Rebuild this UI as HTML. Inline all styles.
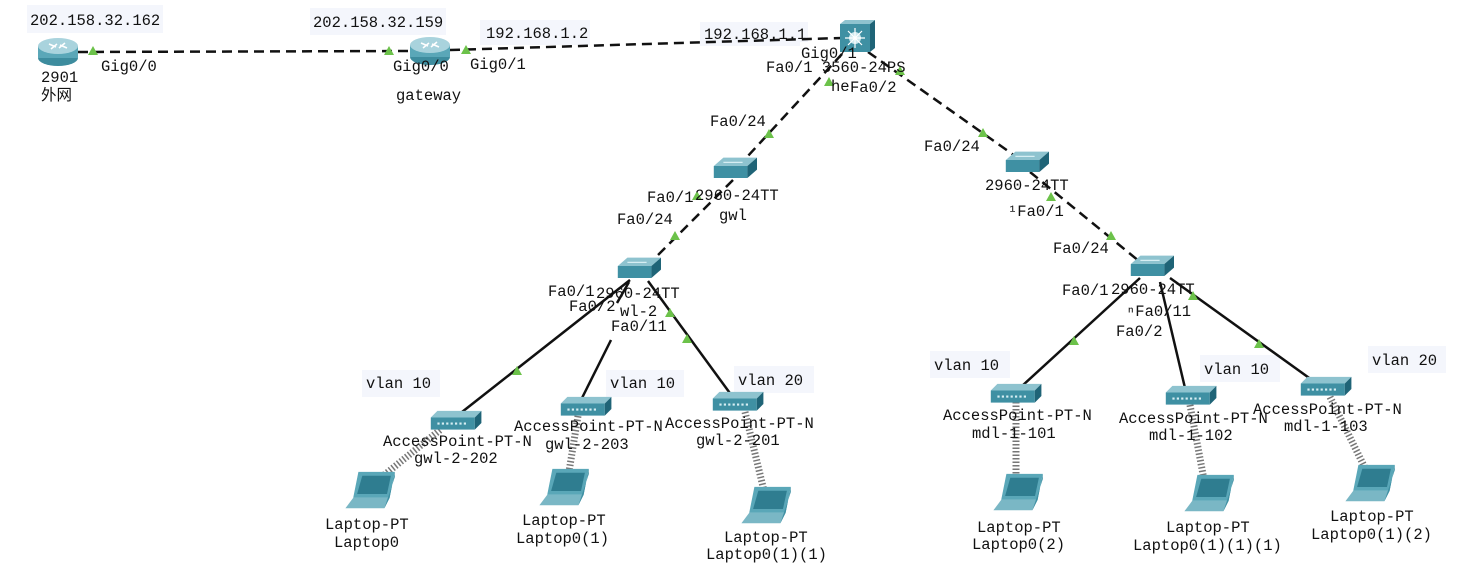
<!DOCTYPE html>
<html><head><meta charset="utf-8">
<style>
html,body{margin:0;padding:0;background:#fff;}
svg{display:block;}
text{font-family:"Liberation Mono","Noto Sans CJK SC",monospace;font-size:15.5px;fill:#111;}
</style></head>
<body>
<svg width="1464" height="586" viewBox="0 0 1464 586" xmlns="http://www.w3.org/2000/svg">
<defs>
 <g id="router">
  <ellipse cx="0" cy="8" rx="20" ry="8" fill="#3d8c9e"/>
  <rect x="-20" y="-4" width="40" height="12" fill="#5aa7b8"/>
  <ellipse cx="0" cy="-4" rx="20" ry="8" fill="#a9d3dd"/>
  <path d="M-9,-6 L-2,-3 M9,-2 L2,-5 M-7,-1 L-1,-6 M7,-7 L1,-2" stroke="#fff" stroke-width="1.5"/>
 </g>
 <g id="sw0">
  <polygon points="-16,-5 -8,-12 20,-12 12,-5" fill="#8ec3cf"/>
  <rect x="-16" y="-5" width="28" height="10" fill="#3f90a3"/>
  <polygon points="12,-5 20,-12 20,-2 12,5" fill="#1f6477"/>
  <path d="M-8,-8 L8,-8" stroke="#d6eef3" stroke-width="1"/>
 </g>
 <g id="sw"><use href="#sw0" transform="scale(1.2)"/></g>
 <g id="ap0">
  <polygon points="-22,-5 -16,-11 24,-11 18,-5" fill="#8ec3cf"/>
  <rect x="-22" y="-5" width="40" height="11" fill="#3f90a3"/>
  <polygon points="18,-5 24,-11 24,0 18,6" fill="#1f6477"/>
  <path d="M-16,0.5 L12,0.5" stroke="#d6eef3" stroke-width="2" stroke-dasharray="2,2"/>
 </g>
 <g id="ap"><use href="#ap0" transform="scale(1.1)"/></g>
 <g id="lp0">
  <polygon points="-12,-17 16,-17 12,3 -16,3" fill="#5aa7b8"/>
  <polygon points="-9,-14 13,-14 10,0 -13,0" fill="#2f7d90"/>
  <polygon points="-16,3 12,3 8,11 -22,11" fill="#7ab7c5"/>
  <polygon points="12,3 16,-17 16,-13 8,11" fill="#3f90a3"/>
 </g>
 <g id="laptop"><use href="#lp0" transform="scale(1.3)"/></g>
 <g id="tri"><polygon points="0,-5 5,4 -5,4" fill="#6cc24a"/></g>
</defs>

<g fill="#f4f6fc">
 <rect x="27" y="5" width="136" height="28"/>
 <rect x="310" y="8" width="136" height="27"/>
 <rect x="480" y="20" width="110" height="25"/>
 <rect x="700" y="22" width="108" height="24"/>
 <rect x="800" y="42" width="64" height="22" fill="#fff"/>
 <rect x="362" y="370" width="78" height="27"/>
 <rect x="606" y="370" width="78" height="27"/>
 <rect x="734" y="366" width="80" height="27"/>
 <rect x="930" y="351" width="80" height="27"/>
 <rect x="1200" y="355" width="80" height="27"/>
 <rect x="1368" y="346" width="78" height="27"/>
</g>

<g stroke="#111" stroke-width="2.5" fill="none" stroke-dasharray="10,6">
 <line x1="78" y1="52" x2="410" y2="51"/>
 <line x1="450" y1="50" x2="842" y2="38"/>
 <line x1="842" y1="54" x2="735" y2="170"/>
 <line x1="868" y1="52" x2="1025" y2="163"/>
 <line x1="733" y1="180" x2="645" y2="268"/>
 <line x1="1030" y1="172" x2="1145" y2="266"/>
</g>
<g stroke="#111" stroke-width="2.5" fill="none">
 <line x1="630" y1="280" x2="462" y2="412"/>
 <line x1="629" y1="282" x2="617" y2="303"/>
 <line x1="611" y1="340" x2="581" y2="400"/>
 <line x1="648" y1="281" x2="732" y2="396"/>
 <line x1="1140" y1="278" x2="1022" y2="386"/>
 <line x1="1160" y1="282" x2="1185" y2="388"/>
 <line x1="1170" y1="278" x2="1312" y2="380"/>
</g>
<g stroke="#777" stroke-width="7" fill="none" stroke-dasharray="1.5,2">
 <line x1="440" y1="430" x2="378" y2="480"/>
 <line x1="578" y1="416" x2="568" y2="478"/>
 <line x1="745" y1="412" x2="765" y2="495"/>
 <line x1="1016" y1="402" x2="1016" y2="484"/>
 <line x1="1190" y1="405" x2="1205" y2="485"/>
 <line x1="1330" y1="397" x2="1368" y2="474"/>
</g>

<use href="#tri" x="93" y="51"/>
<use href="#tri" x="389" y="51"/>
<use href="#tri" x="466" y="50"/>
<use href="#tri" x="829" y="82"/>
<use href="#tri" x="900" y="71"/>
<use href="#tri" x="769" y="134"/>
<use href="#tri" x="983" y="133"/>
<use href="#tri" x="697" y="196"/>
<use href="#tri" x="675" y="236"/>
<use href="#tri" x="1051" y="197"/>
<use href="#tri" x="1111" y="236"/>
<use href="#tri" x="670" y="313"/>
<use href="#tri" x="687" y="339"/>
<use href="#tri" x="517" y="371"/>
<use href="#tri" x="1074" y="341"/>
<use href="#tri" x="1193" y="296"/>
<use href="#tri" x="1259" y="344"/>

<use href="#router" x="58" y="50"/>
<use href="#router" x="430" y="49"/>
<g transform="translate(855,38)">
 <rect x="-15" y="-14" width="30" height="28" fill="#3f90a3"/>
 <polygon points="-15,-14 -10,-18 20,-18 15,-14" fill="#8ec3cf"/>
 <polygon points="15,-14 20,-18 20,10 15,14" fill="#1f6477"/>
 <circle cx="0" cy="0" r="6" fill="#cfe9ef"/>
 <path d="M0,-10 V10 M-10,0 H10 M-7,-7 L7,7 M7,-7 L-7,7" stroke="#fff" stroke-width="1.2"/>
</g>
<use href="#sw" x="733" y="172"/>
<use href="#sw" x="637" y="272"/>
<use href="#sw" x="1025" y="166"/>
<use href="#sw" x="1150" y="270"/>
<use href="#ap" x="455" y="423"/>
<use href="#ap" x="585" y="409"/>
<use href="#ap" x="737" y="404"/>
<use href="#ap" x="1015" y="396"/>
<use href="#ap" x="1190" y="398"/>
<use href="#ap" x="1325" y="389"/>
<use href="#laptop" x="374" y="494"/>
<use href="#laptop" x="568" y="491"/>
<use href="#laptop" x="770" y="509"/>
<use href="#laptop" x="1022" y="496"/>
<use href="#laptop" x="1213" y="497"/>
<use href="#laptop" x="1374" y="487"/>

<text x="30" y="25">202.158.32.162</text>
<text x="313" y="27">202.158.32.159</text>
<text x="486" y="38">192.168.1.2</text>
<text x="704" y="39">192.168.1.1</text>
<text x="101" y="71">Gig0/0</text>
<text x="41" y="82">2901</text>
<text x="41" y="100">外网</text>
<text x="393" y="71">Gig0/0</text>
<text x="470" y="69">Gig0/1</text>
<text x="396" y="100">gateway</text>
<text x="766" y="72">Fa0/1 3560-24PS</text>
<text x="801" y="58">Gig0/1</text>
<text x="831" y="91">he</text>
<text x="850" y="92">Fa0/2</text>
<text x="710" y="126">Fa0/24</text>
<text x="924" y="151">Fa0/24</text>
<text x="647" y="202">Fa0/1</text>
<text x="695" y="200">2960-24TT</text>
<text x="719" y="220">gwl</text>
<text x="617" y="224">Fa0/24</text>
<text x="985" y="190">2960-24TT</text>
<text x="1008" y="216">¹Fa0/1</text>
<text x="1053" y="253">Fa0/24</text>
<text x="548" y="296">Fa0/1</text>
<text x="596" y="298">2960-24TT</text>
<text x="569" y="311">Fa0/2</text>
<text x="620" y="316">wl-2</text>
<text x="611" y="331">Fa0/11</text>
<text x="1062" y="295">Fa0/1</text>
<text x="1111" y="294">2960-24TT</text>
<text x="1126" y="316">ⁿFa0/11</text>
<text x="1116" y="336">Fa0/2</text>
<text x="366" y="388">vlan  10</text>
<text x="610" y="388">vlan  10</text>
<text x="738" y="385">vlan  20</text>
<text x="934" y="370">vlan  10</text>
<text x="1204" y="374">vlan  10</text>
<text x="1372" y="365">vlan  20</text>
<text x="383" y="446">AccessPoint-PT-N</text>
<text x="414" y="463">gwl-2-202</text>
<text x="514" y="431">AccessPoint-PT-N</text>
<text x="545" y="449">gwl-2-203</text>
<text x="665" y="428">AccessPoint-PT-N</text>
<text x="696" y="445">gwl-2-201</text>
<text x="943" y="420">AccessPoint-PT-N</text>
<text x="972" y="438">mdl-1-101</text>
<text x="1119" y="423">AccessPoint-PT-N</text>
<text x="1149" y="440">mdl-1-102</text>
<text x="1253" y="414">AccessPoint-PT-N</text>
<text x="1284" y="431">mdl-1-103</text>
<text x="325" y="529">Laptop-PT</text>
<text x="334" y="547">Laptop0</text>
<text x="522" y="525">Laptop-PT</text>
<text x="516" y="543">Laptop0(1)</text>
<text x="724" y="542">Laptop-PT</text>
<text x="706" y="559">Laptop0(1)(1)</text>
<text x="977" y="532">Laptop-PT</text>
<text x="972" y="549">Laptop0(2)</text>
<text x="1166" y="532">Laptop-PT</text>
<text x="1133" y="550">Laptop0(1)(1)(1)</text>
<text x="1330" y="521">Laptop-PT</text>
<text x="1311" y="539">Laptop0(1)(2)</text>
</svg>
</body></html>
